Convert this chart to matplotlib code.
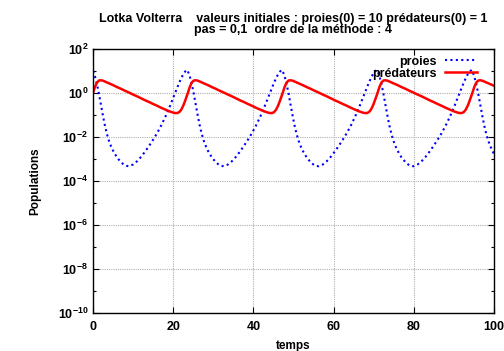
import numpy as np
import matplotlib
matplotlib.use("Agg")
import matplotlib.pyplot as plt
import matplotlib.ticker as plticker

# temps
temps = [
    0, 0.5, 1, 1.5, 2, 2.5, 3, 3.5, 4, 4.5, 5, 6, 7, 8, 9, 10, 11, 12, 13, 14, 15, 16, 17, 18, 19, 20, 20.5, 21, 21.5, 22, 22.5, 23, 23.5,
    23.65, 24.15, 24.65, 25.15, 25.65, 26.15, 26.65, 27.15, 27.65, 28.15, 28.65, 29.65, 30.65, 31.65, 32.65, 33.65, 34.65, 35.65, 36.65, 37.65, 38.65, 39.65, 40.65, 41.65, 42.65, 43.65, 44.15, 44.65, 45.15, 45.65, 46.15, 46.65, 47.15,
    47.3, 47.8, 48.3, 48.8, 49.3, 49.8, 50.3, 50.8, 51.3, 51.8, 52.3, 53.3, 54.3, 55.3, 56.3, 57.3, 58.3, 59.3, 60.3, 61.3, 62.3, 63.3, 64.3, 65.3, 66.3, 67.3, 67.8, 68.3, 68.8, 69.3, 69.8, 70.3, 70.8,
    70.95, 71.45, 71.95, 72.45, 72.95, 73.45, 73.95, 74.45, 74.95, 75.45, 75.95, 76.95, 77.95, 78.95, 79.95, 80.95, 81.95, 82.95, 83.95, 84.95, 85.95, 86.95, 87.95, 88.95, 89.95, 90.95, 91.45, 91.95, 92.45, 92.95, 93.45, 93.95, 94.45,
    94.6, 95.1, 95.6, 96.1, 96.6, 97.1, 97.6, 98.1, 98.6, 99.1, 99.6, 100,
]

# log10 des proies
proies_exp = [
    1.00, 0.75, 0.40, -0.05, -0.55, -1.05, -1.50, -1.88, -2.18, -2.42, -2.62, -2.93, -3.15, -3.30, -3.33, -3.25, -3.10, -2.90, -2.66, -2.40, -2.12, -1.82, -1.48, -1.10, -0.68, -0.22, 0.02, 0.25, 0.47, 0.67, 0.85, 0.98, 1.05,
    1.00, 0.75, 0.40, -0.05, -0.55, -1.05, -1.50, -1.88, -2.18, -2.42, -2.62, -2.93, -3.15, -3.30, -3.33, -3.25, -3.10, -2.90, -2.66, -2.40, -2.12, -1.82, -1.48, -1.10, -0.68, -0.22, 0.02, 0.25, 0.47, 0.67, 0.85, 0.98, 1.05,
    1.00, 0.75, 0.40, -0.05, -0.55, -1.05, -1.50, -1.88, -2.18, -2.42, -2.62, -2.93, -3.15, -3.30, -3.33, -3.25, -3.10, -2.90, -2.66, -2.40, -2.12, -1.82, -1.48, -1.10, -0.68, -0.22, 0.02, 0.25, 0.47, 0.67, 0.85, 0.98, 1.05,
    1.00, 0.75, 0.40, -0.05, -0.55, -1.05, -1.50, -1.88, -2.18, -2.42, -2.62, -2.93, -3.15, -3.30, -3.33, -3.25, -3.10, -2.90, -2.66, -2.40, -2.12, -1.82, -1.48, -1.10, -0.68, -0.22, 0.02, 0.25, 0.47, 0.67, 0.85, 0.98, 1.05,
    1.00, 0.75, 0.40, -0.05, -0.55, -1.05, -1.50, -1.88, -2.18, -2.42, -2.62, -2.78,
]

# log10 des prédateurs
predateurs_exp = [
    0.00, 0.28, 0.48, 0.57, 0.58, 0.56, 0.52, 0.48, 0.44, 0.40, 0.36, 0.27, 0.19, 0.10, 0.02, -0.07, -0.15, -0.24, -0.33, -0.41, -0.50, -0.58, -0.67, -0.75, -0.83, -0.89, -0.91, -0.91, -0.87, -0.76, -0.58, -0.34, -0.08,
    0.00, 0.28, 0.48, 0.57, 0.58, 0.56, 0.52, 0.48, 0.44, 0.40, 0.36, 0.27, 0.19, 0.10, 0.02, -0.07, -0.15, -0.24, -0.33, -0.41, -0.50, -0.58, -0.67, -0.75, -0.83, -0.89, -0.91, -0.91, -0.87, -0.76, -0.58, -0.34, -0.08,
    0.00, 0.28, 0.48, 0.57, 0.58, 0.56, 0.52, 0.48, 0.44, 0.40, 0.36, 0.27, 0.19, 0.10, 0.02, -0.07, -0.15, -0.24, -0.33, -0.41, -0.50, -0.58, -0.67, -0.75, -0.83, -0.89, -0.91, -0.91, -0.87, -0.76, -0.58, -0.34, -0.08,
    0.00, 0.28, 0.48, 0.57, 0.58, 0.56, 0.52, 0.48, 0.44, 0.40, 0.36, 0.27, 0.19, 0.10, 0.02, -0.07, -0.15, -0.24, -0.33, -0.41, -0.50, -0.58, -0.67, -0.75, -0.83, -0.89, -0.91, -0.91, -0.87, -0.76, -0.58, -0.34, -0.08,
    0.00, 0.28, 0.48, 0.57, 0.58, 0.56, 0.52, 0.48, 0.44, 0.40, 0.36, 0.33,
]

xticks = [0, 20, 40, 60, 80, 100]
ydecades = [-10, -8, -6, -4, -2, 0, 2]

plt.rcParams['font.family'] = ['Liberation Sans', 'DejaVu Sans']
plt.rcParams['font.weight'] = 'bold'
plt.rcParams['mathtext.fontset'] = 'custom'
plt.rcParams['mathtext.rm'] = 'Liberation Sans:bold'
plt.rcParams['mathtext.bf'] = 'Liberation Sans:bold'
plt.rcParams['mathtext.it'] = 'Liberation Sans:bold'

fig = plt.figure(figsize=(5.04, 3.51), dpi=100)
ax = fig.add_axes([0.1845, 0.1083, 0.7956, 0.752])

t = np.array(temps)
ax.plot(t, 10 ** np.array(proies_exp), color='#0000ff', lw=1.5,
        linestyle=(0, (1, 1.6)), label='proies')
ax.plot(t, 10 ** np.array(predateurs_exp), color='#ff0000', lw=1.8,
        label='prédateurs')

ax.set_yscale('log')
ax.set_xlim(0, 100)
ax.set_ylim(1e-10, 1e2)
ax.set_xticks(xticks)
ax.set_yticks([10.0 ** d for d in ydecades])
ax.yaxis.set_minor_locator(plticker.FixedLocator([10.0 ** d for d in range(-9, 2, 2)]))
ax.yaxis.set_minor_formatter(plticker.NullFormatter())
ax.yaxis.set_major_formatter(plticker.FuncFormatter(
    lambda v, pos: r'$\mathbf{10^{%d}}$' % round(np.log10(v))))
ax.tick_params(which='both', direction='in', top=True, right=True,
               labelsize=9)
ax.tick_params(which='major', length=4, width=0.8)
ax.tick_params(which='minor', length=2.5, width=0.8)
ax.tick_params(axis='x', pad=6)
for s in ax.spines.values():
    s.set_linewidth(1.0)

ax.grid(True, which='major', color='#b0b0b0', linestyle=(0, (1, 1)), lw=0.8)

ax.set_xlabel('temps', fontsize=8.5, fontweight='bold', labelpad=5)
ax.set_ylabel('Populations', fontsize=8.5, fontweight='bold', labelpad=12)
ax.set_title("Lotka Volterra    valeurs initiales : proies(0) = 10 prédateurs(0) = 1\n"
             "pas = 0,1  ordre de la méthode : 4",
             fontsize=9, fontweight='bold', linespacing=0.9, pad=11.5)

ax.legend(loc='upper right', bbox_to_anchor=(0.958, 0.975), frameon=False,
          markerfirst=False, handlelength=2.6, handletextpad=0.6,
          labelspacing=0.0, borderpad=0, borderaxespad=0,
          prop={'weight': 'bold', 'size': 9})

fig.savefig('out.png', dpi=100)
